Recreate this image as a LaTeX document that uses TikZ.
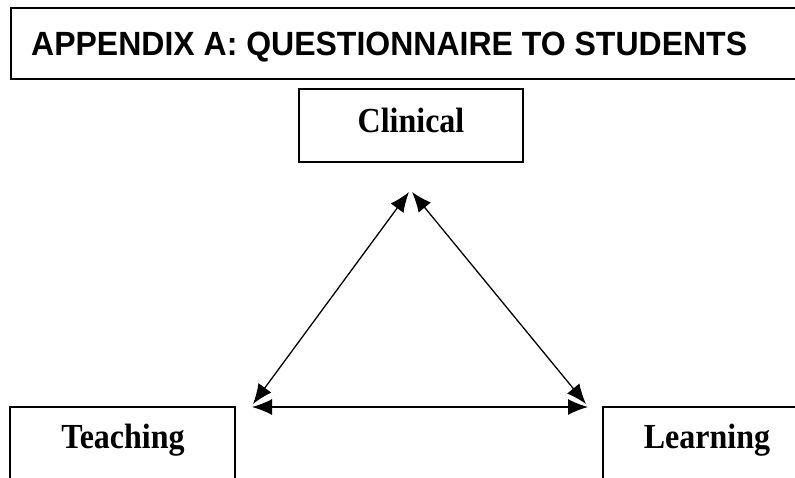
\documentclass[tikz,border=0pt]{standalone}
\usepackage{fontspec}
\setmainfont{Liberation Serif}
\newfontfamily\headfont{Liberation Sans}
\usetikzlibrary{arrows.meta}
\begin{document}
\begin{tikzpicture}[x=1pt,y=-1pt,
  frame/.style={draw=black,line width=1.4pt},
  labeltext/.style={font=\bfseries\fontsize{32}{36}\selectfont,anchor=base},
  link/.style={line width=1.3pt,
    {Latex[length=20pt,width=16pt]}-{Latex[length=20pt,width=16pt]}}]
  \useasboundingbox (0,0) rectangle (795,477);
  % heading box, open on the right
  \draw[frame] (800,8) -- (11,8) -- (11,79) -- (800,79);
  \node[anchor=base west,font=\headfont\bfseries\fontsize{32}{36}\selectfont,inner sep=0pt]
    (title) at (31,55) {\scalebox{1}[1.05]{APPENDIX A: QUESTIONNAIRE TO STUDENTS}};
  % top box
  \draw[frame] (299,89) rectangle (523,162);
  \node[labeltext] (clinical) at (411,132) {\scalebox{1}[1.1]{Clinical}};
  % lower boxes, running off the page edges
  \draw[frame] (10,482) -- (10,407) -- (235,407) -- (235,482);
  \node[labeltext] (teaching) at (123,448) {\scalebox{1}[1.1]{Teaching}};
  \draw[frame] (800,407) -- (603,407) -- (603,482);
  \node[labeltext] (learning) at (707,448) {\scalebox{1}[1.1]{Learning}};
  % arrow end points
  \coordinate (topL) at (409,192);
  \coordinate (topR) at (412,192);
  \coordinate (botL) at (253,404);
  \coordinate (botR) at (586,404);
  \coordinate (hL) at (252,407);
  \coordinate (hR) at (588,407);
  % connectors
  \draw[link] (botL) -- (topL);
  \draw[link] (topR) -- (botR);
  \draw[link] (hL) -- (hR);
\end{tikzpicture}
\end{document}
